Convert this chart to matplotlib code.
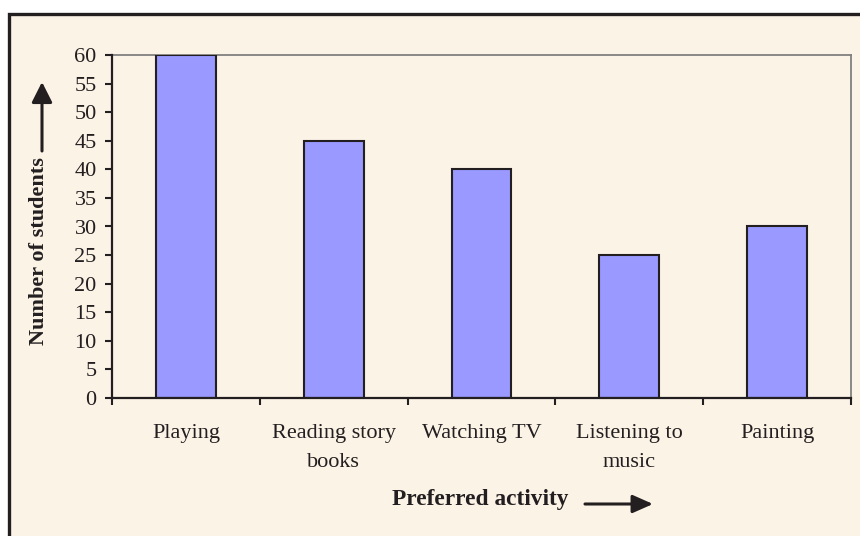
import matplotlib
matplotlib.use("Agg")
import matplotlib.pyplot as plt
from matplotlib.patches import Rectangle, FancyArrowPatch
import numpy as np

categories = ["Playing", "Reading story\nbooks", "Watching TV", "Listening to\nmusic", "Painting"]
values = [60, 45, 40, 25, 30]
yticks = list(range(0, 61, 5))

BG = "#FCF3E7"
DARK = "#231F20"
BAR = "#9999FF"
GRAY = "#808080"

plt.rcParams['font.family'] = ['Liberation Serif', 'DejaVu Serif']

W, H = 860, 536
fig = plt.figure(figsize=(W / 100, H / 100), dpi=100)
fig.patch.set_facecolor("white")

# outer cream panel with dark left/top border
panel = Rectangle((8.5 / W, -0.1), 1.2, (H - 13.5) / H + 0.1,
                  transform=fig.transFigure, facecolor=BG,
                  edgecolor=DARK, linewidth=2.4, zorder=-5)
fig.patches.append(panel)

left, right, top, bottom = 112, 851, 55, 398
ax = fig.add_axes([left / W, 1 - bottom / H, (right - left) / W, (bottom - top) / H])
ax.set_facecolor(BG)
ax.set_zorder(1)

x = np.arange(len(categories)) + 0.5
ax.bar(x, values, width=0.405, color=BAR, edgecolor=DARK, linewidth=1.5, zorder=3)

ax.set_xlim(0, len(categories))
ax.set_ylim(0, 60)
ax.set_yticks(yticks)
ax.set_yticklabels([str(v) for v in yticks])

ax.set_xticks(np.arange(len(categories) + 1))
ax.set_xticklabels([])
ax.set_xticks(x, minor=True)
ax.set_xticklabels(categories, minor=True, fontsize=16, color=DARK, linespacing=1.72)
ax.tick_params(axis='x', which='major', direction='out', length=5, width=1.5, color=DARK)
ax.tick_params(axis='x', which='minor', length=0, pad=18.5)
ax.tick_params(axis='y', direction='out', length=5, width=1.5, color=DARK,
               labelsize=16, labelcolor=DARK, pad=6)

for s in ['left', 'bottom']:
    ax.spines[s].set_color(DARK)
    ax.spines[s].set_linewidth(1.6)
for s in ['top', 'right']:
    ax.spines[s].set_color(GRAY)
    ax.spines[s].set_linewidth(1.3)
ax.spines['left'].set_zorder(4)
ax.spines['bottom'].set_zorder(4)

# axis titles with arrows
fig.text(39 / W, 1 - 251 / H, "Number of students", rotation=90, ha='center', va='center',
         fontsize=16, fontweight='bold', color=DARK, zorder=5)
fig.text(480 / W, 1 - 499 / H, "Preferred activity", ha='center', va='center',
         fontsize=16.8, fontweight='bold', color=DARK, zorder=5)

fig.add_artist(FancyArrowPatch(
    (42 / W, 1 - 151 / H), (42 / W, 1 - 82 / H), transform=fig.transFigure,
    arrowstyle='-|>,head_length=0.95,head_width=0.48', color=DARK, lw=2.2,
    mutation_scale=13, shrinkA=0, shrinkB=0, zorder=5))
fig.add_artist(FancyArrowPatch(
    (585 / W, 1 - 504 / H), (653 / W, 1 - 504 / H), transform=fig.transFigure,
    arrowstyle='-|>,head_length=0.95,head_width=0.42', color=DARK, lw=2.2,
    mutation_scale=13, shrinkA=0, shrinkB=0, zorder=5))

fig.savefig("out.png", dpi=100, facecolor=fig.get_facecolor())
